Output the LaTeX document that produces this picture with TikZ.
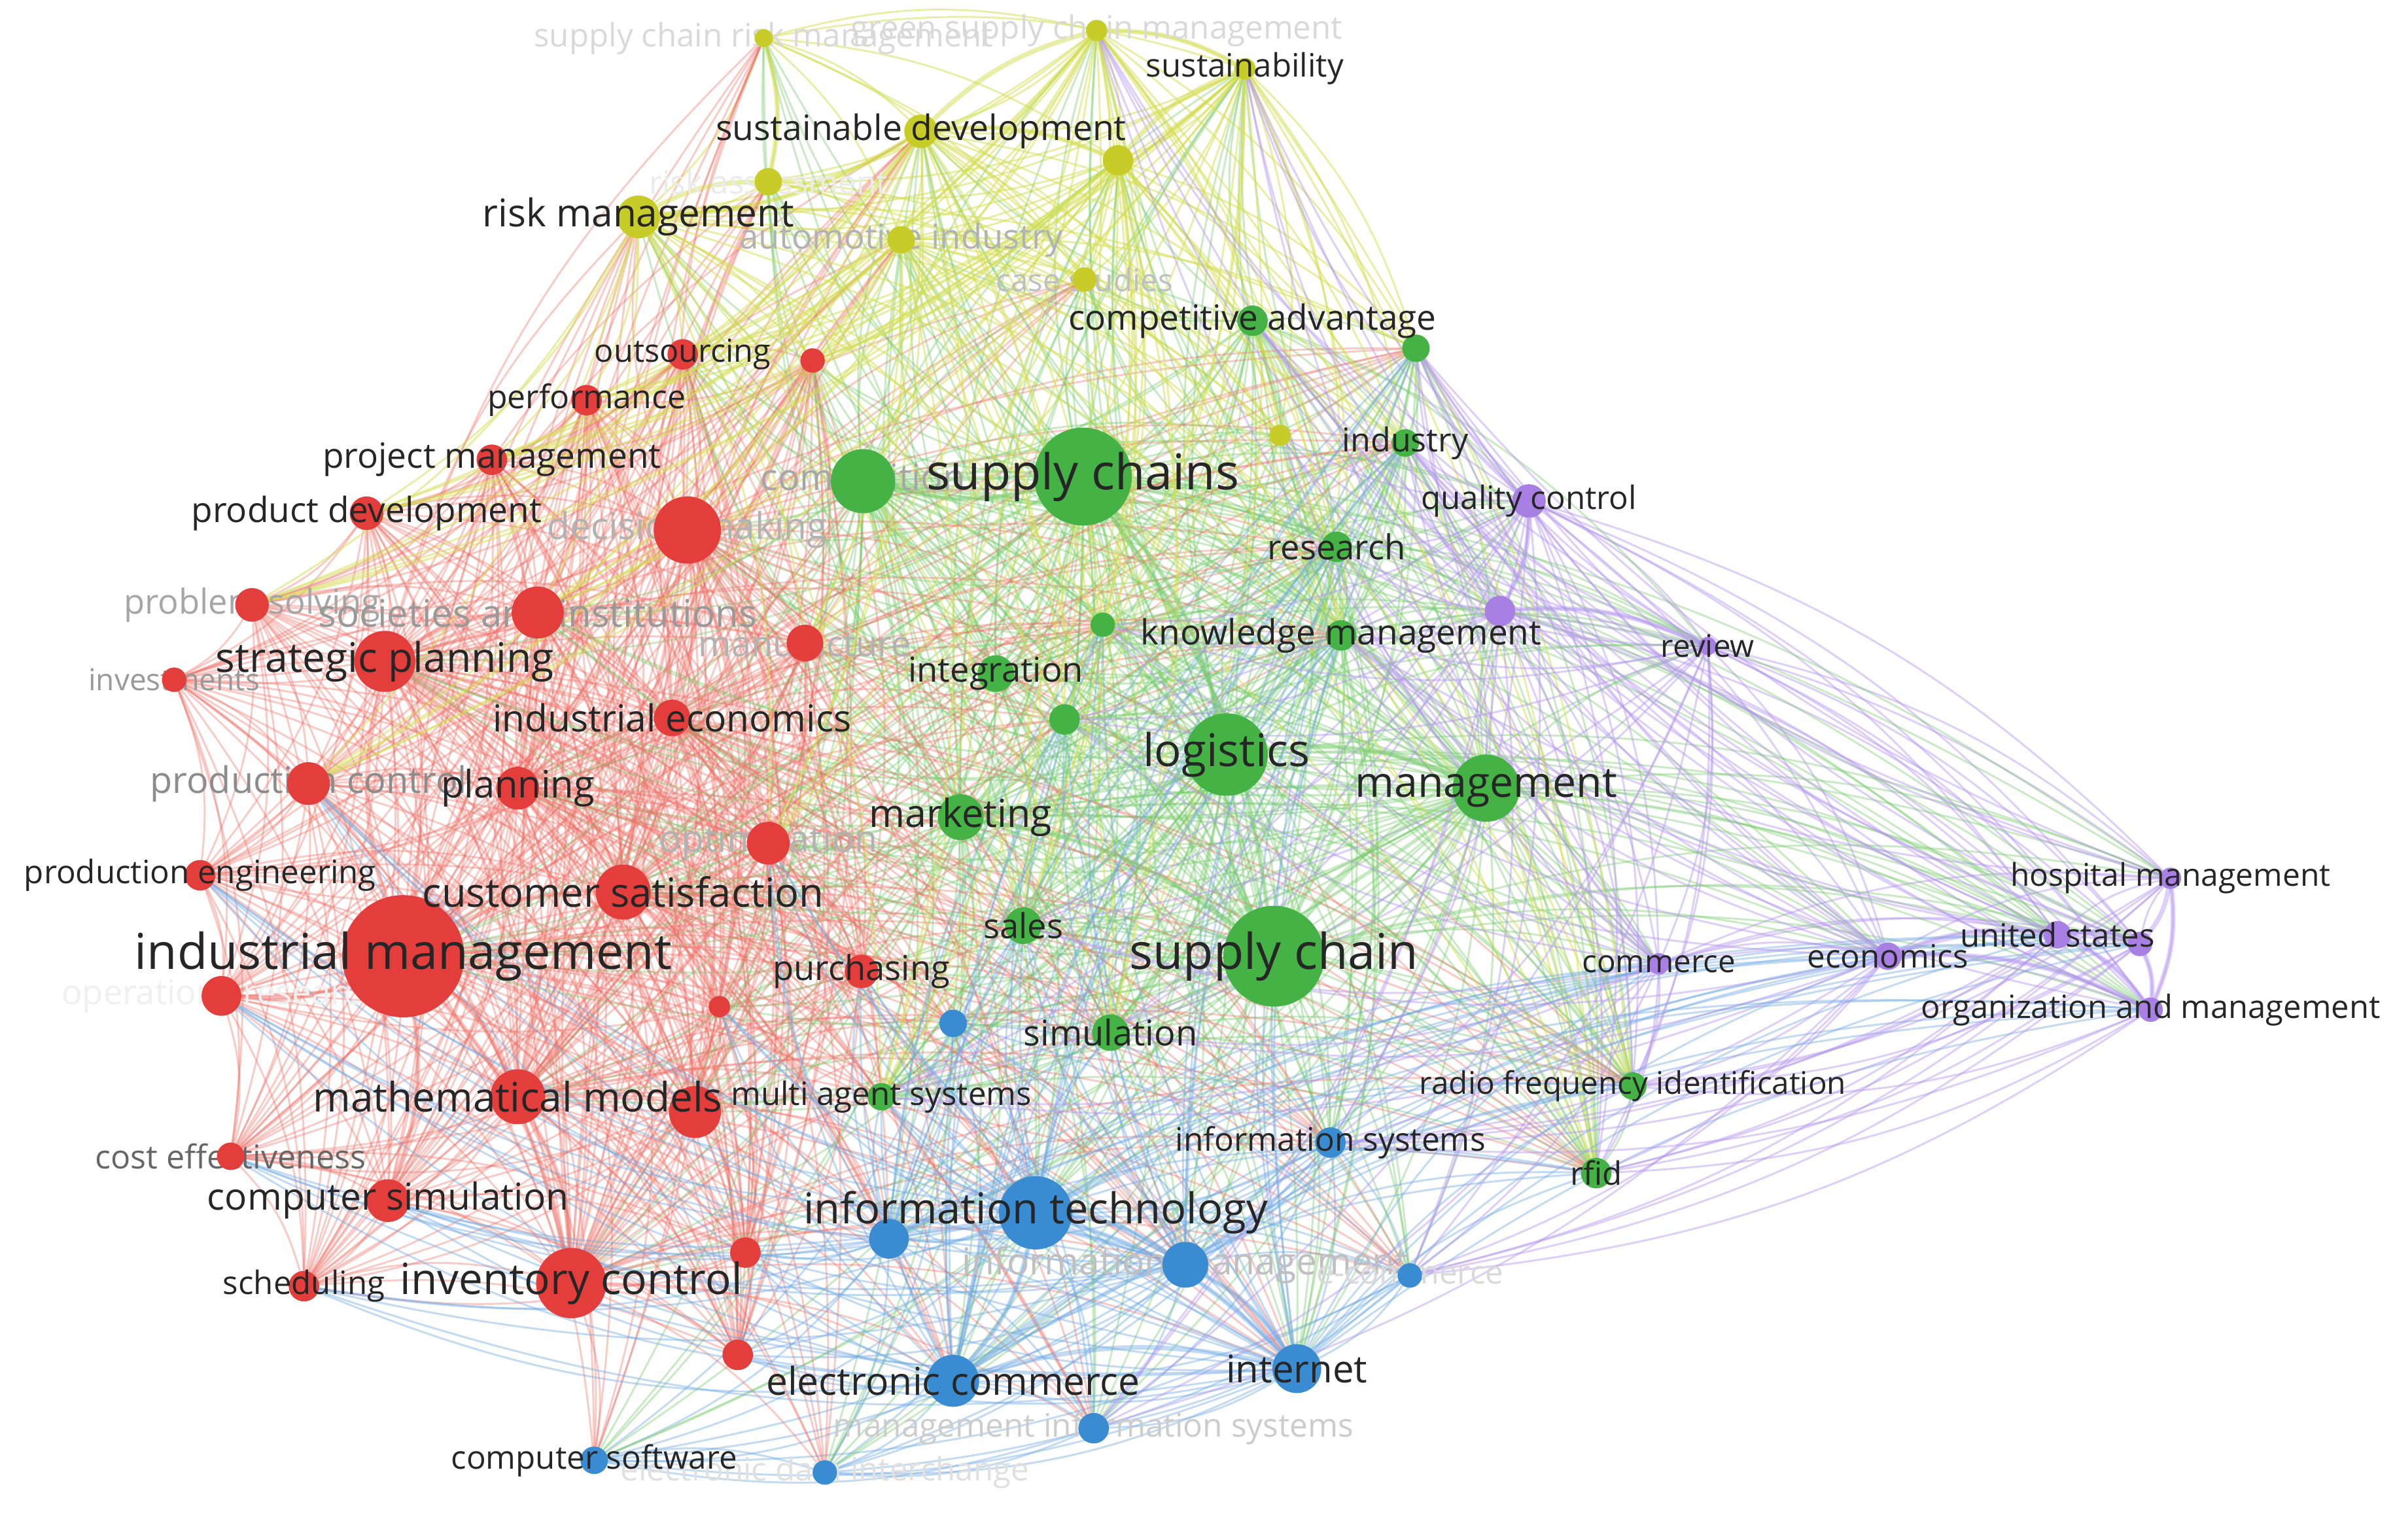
\documentclass[tikz,border=0pt]{standalone}
\usepackage{fontspec}
\setmainfont{Open Sans}
\definecolor{cR}{RGB}{228,62,60}
\definecolor{cG}{RGB}{68,178,68}
\definecolor{cY}{RGB}{200,204,40}
\definecolor{cB}{RGB}{58,140,210}
\definecolor{cP}{RGB}{168,128,228}
\definecolor{eR}{RGB}{238,112,102}
\definecolor{eG}{RGB}{120,204,110}
\definecolor{eY}{RGB}{212,222,80}
\definecolor{eB}{RGB}{112,170,228}
\definecolor{eP}{RGB}{180,150,238}
\pgfdeclarelayer{bg}
\pgfdeclarelayer{edges}
\pgfdeclarelayer{flabels}
\pgfdeclarelayer{labels}
\pgfsetlayers{bg,edges,flabels,main,labels}
\tikzset{
  dot/.style={circle,inner sep=0pt,outer sep=0pt,draw=none},
  lbl/.style={inner sep=0pt,outer sep=0pt,text=black!85},
  lk/.style={line width=0.9pt,bend left=14},
  linkR/.style={lk,draw=eR,draw opacity=0.36},
  linkG/.style={lk,draw=eG,draw opacity=0.4},
  linkY/.style={lk,draw=eY,draw opacity=0.5},
  linkB/.style={lk,draw=eB,draw opacity=0.42},
  linkP/.style={lk,draw=eP,draw opacity=0.45},
  strong/.style={line width=2.2pt},
}
% labelled node, dark label
\newcommand\kw[7]{%
  \node[dot,fill=#5,minimum size=#4*0.05cm] (#1) at (#2,#3) {};
  \begin{pgfonlayer}{labels}
  \node[lbl,font=\fontsize{#7pt}{#7pt}\selectfont] (#1-l) at (#1.center) {#6};
  \end{pgfonlayer}}
% labelled node, faint label
\newcommand\kf[8]{%
  \node[dot,fill=#5,minimum size=#4*0.05cm] (#1) at (#2,#3) {};
  \begin{pgfonlayer}{flabels}
  \node[lbl,text=black!#8,font=\fontsize{#7pt}{#7pt}\selectfont] (#1-l) at (#1.center) {#6};
  \end{pgfonlayer}}
% node without label
\newcommand\kn[5]{%
  \node[dot,fill=#5,minimum size=#4*0.05cm] (#1) at (#2,#3) {};}
\def\Rall{rou,rx1,rpe,rpm,rpd,rdm,rps,rsi,riv,rsp,rmf,rie,rpc,rpl,rop,rpen,rcs,rim,rpu,ror,rx2,rmm,rx3,rce,rcsim,rx4,rsch,ric,rx5}
\def\Gall{gca,gx1,gin,gsc,gco,gre,gx2,gkm,gig,gx3,glo,gma,gmk,gsa,gsp,gsi,gmas,grf,grd}
\def\Yall{ysc,ygs,ysu,ysd,yx1,yra,yrm,yai,ycs,yx2}
\def\Ball{bx1,bis,bit,bx2,bim,becc,bin,bec,bmis,bcs,bedi}
\def\Pall{pqc,px1,prv,pcm,pec,pus,px2,phm,pom}
\begin{document}
\begin{tikzpicture}[x=0.025cm,y=-0.025cm]
\begin{pgfonlayer}{bg}
\fill[white] (0,0) rectangle (1568,1008);
\end{pgfonlayer}
\useasboundingbox (0,0) rectangle (1568,1008);
% ---------------- yellow cluster
\kf{ysc}{500}{25}{6}{cY}{supply chain risk management}{15}{15}
\kf{ygs}{718}{20}{7}{cY}{green supply chain management}{15}{15}
\kw{ysu}{815}{45}{7}{cY}{sustainability}{15}
\kw{ysd}{603}{86}{11}{cY}{sustainable development}{16.3}
\kn{yx1}{732}{105}{10}{cY}
\kf{yra}{503}{119}{9}{cY}{risk assessment}{15}{8}
\kw{yrm}{418}{142}{14}{cY}{risk management}{17.8}
\kf{yai}{590}{157}{9}{cY}{automotive industry}{16}{30}
\kf{ycs}{710}{183}{8}{cY}{case studies}{14.5}{25}
\kn{yx2}{838}{285}{7}{cY}
% ---------------- green cluster
\kw{gca}{820}{210}{10}{cG}{competitive advantage}{16.2}
\kn{gx1}{927}{228}{9}{cG}
\kw{gin}{920}{290}{9}{cG}{industry}{15.3}
\kf{gco}{565}{315}{21}{cG}{competition}{17}{35}
\kw{gsc}{709}{312}{32}{cG}{supply chains}{23}
\kw{gre}{875}{358}{10}{cG}{research}{16}
\kn{gx2}{722}{409}{8}{cG}
\kw{gkm}{878}{416}{10}{cG}{knowledge management}{16.2}
\kw{gig}{652}{441}{12}{cG}{integration}{16}
\kn{gx3}{697}{471}{10}{cG}
\kw{glo}{803}{494}{27}{cG}{logistics}{21}
\kw{gma}{973}{516}{22}{cG}{management}{19.6}
\kw{gmk}{629}{535}{15}{cG}{marketing}{18}
\kw{gsa}{670}{606}{12}{cG}{sales}{16}
\kw{gsp}{834}{626}{33}{cG}{supply chain}{23}
\kw{gsi}{727}{676}{12}{cG}{simulation}{16.5}
\kw{gmas}{577}{718}{9}{cG}{multi agent systems}{15}
\kw{grf}{1069}{711}{9}{cG}{radio frequency identification}{14.5}
\kw{grd}{1045}{768}{10}{cG}{rfid}{15}
% ---------------- purple cluster
\kw{pqc}{1001}{328}{11}{cP}{quality control}{15}
\kn{px1}{982}{400}{10}{cP}
\kw{prv}{1118}{423}{6}{cP}{review}{14.5}
\kw{pcm}{1086}{631}{7}{cP}{commerce}{14.5}
\kw{pec}{1236}{626}{9}{cP}{economics}{15}
\kw{pus}{1347}{612}{9}{cP}{united states}{15}
\kn{px2}{1401}{618}{8}{cP}
\kw{phm}{1421}{575}{7}{cP}{hospital management}{14.6}
\kw{pom}{1408}{661}{8}{cP}{organization and management}{14.9}
% ---------------- red cluster
\kw{rou}{447}{232}{10}{cR}{outsourcing}{14.8}
\kn{rx1}{532}{236}{8}{cR}
\kw{rpe}{384}{262}{10}{cR}{performance}{15.2}
\kw{rpm}{322}{301}{10}{cR}{project management}{16.2}
\kw{rpd}{240}{336}{11}{cR}{product development}{16.2}
\kf{rdm}{450}{347}{22}{cR}{decision making}{17.3}{30}
\kf{rps}{165}{396}{11}{cR}{problem solving}{16}{35}
\kf{rsi}{352}{401}{17}{cR}{societies and institutions}{17.7}{40}
\kf{riv}{114}{445}{8}{cR}{investments}{14}{40}
\kw{rsp}{252}{433}{20}{cR}{strategic planning}{19}
\kf{rmf}{527}{421}{12}{cR}{manufacture}{16.5}{30}
\kw{rie}{440}{470}{12}{cR}{industrial economics}{17.3}
\kf{rpc}{202}{513}{14}{cR}{production control}{17}{45}
\kw{rpl}{339}{516}{14}{cR}{planning}{17.6}
\kf{rop}{503}{552}{14}{cR}{optimization}{17.4}{30}
\kw{rpen}{131}{573}{10}{cR}{production engineering}{15}
\kw{rcs}{408}{584}{18}{cR}{customer satisfaction}{18.7}
\kw{rim}{264}{626}{40}{cR}{industrial management}{23}
\kw{rpu}{564}{636}{11}{cR}{purchasing}{16}
\kf{ror}{145}{652}{13}{cR}{operations research}{16}{6}
\kn{rx2}{471}{659}{7}{cR}
\kw{rmm}{339}{718}{18}{cR}{mathematical models}{18.9}
\kn{rx3}{455}{728}{17}{cR}
\kf{rce}{151}{757}{9}{cR}{cost effectiveness}{15.3}{60}
\kw{rcsim}{254}{786}{14}{cR}{computer simulation}{17.3}
\kn{rx4}{488}{820}{10}{cR}
\kw{rsch}{199}{842}{10}{cR}{scheduling}{15}
\kw{ric}{374}{840}{23}{cR}{inventory control}{20}
\kn{rx5}{483}{887}{10}{cR}
% ---------------- blue cluster
\kn{bx1}{624}{670}{9}{cB}
\kw{bis}{871}{748}{10}{cB}{information systems}{15.1}
\kw{bit}{678}{794}{24}{cB}{information technology}{19.8}
\kn{bx2}{582}{811}{13}{cB}
\kf{bim}{776}{828}{15}{cB}{information management}{17.3}{25}
\kf{becc}{923}{835}{8}{cB}{e-commerce}{15}{15}
\kw{bin}{849}{896}{16}{cB}{internet}{17.7}
\kw{bec}{624}{904}{17}{cB}{electronic commerce}{17.9}
\kf{bmis}{716}{935}{10}{cB}{management information systems}{15.1}{20}
\kw{bcs}{389}{956}{9}{cB}{computer software}{15}
\kf{bedi}{540}{964}{8}{cB}{electronic data interchange}{15}{12}
% ---------------- links
\begin{pgfonlayer}{edges}
% within clusters
\foreach \a [count=\i] in \Rall {\foreach \b [count=\j] in \Rall {\ifnum\j>\i\relax \draw[linkR] (\a) to (\b);\fi}}
\foreach \a [count=\i] in \Gall {\foreach \b [count=\j] in \Gall {\ifnum\j>\i\relax \draw[linkG] (\a) to (\b);\fi}}
\foreach \a [count=\i] in \Yall {\foreach \b [count=\j] in \Yall {\ifnum\j>\i\relax \draw[linkY] (\a) to (\b);\fi}}
\foreach \a [count=\i] in \Ball {\foreach \b [count=\j] in \Ball {\ifnum\j>\i\relax \draw[linkB] (\a) to (\b);\fi}}
\foreach \a [count=\i] in \Pall {\foreach \b [count=\j] in \Pall {\ifnum\j>\i\relax \draw[linkP] (\a) to (\b);\fi}}
% green hubs
\foreach \a in {gsc,glo,gsp,gma,gco,gmk} {\foreach \b in {rim,ric,rmm,rcs,rsp,rdm,rpl,rie,rop,rpu,rmf,rx3,rx2,rsi,rx1,rou,ysc,ygs,ysu,ysd,yx1,yra,yrm,yai,ycs,yx2,bx1,bis,bit,bx2,bim,becc,bin,bec,bmis,bcs,bedi,pqc,px1,prv,pcm,pec,pus,px2,phm,pom} {\draw[linkG] (\a) to (\b);}}
\foreach \a in {gig,gca,gre,gkm} {\foreach \b in {rdm,rcs,rim,rmf,ysd,yx1,yai,ycs,yx2,ysu,bit,bin,bis,pqc,px1,prv} {\draw[linkG] (\a) to (\b);}}
% red hubs
\foreach \a in {rim,ric,rmm,rcs,rsp,rdm,rpl,rie} {\foreach \b in {gin,gre,gx2,gkm,gx3,gsa,gsi,gmas,grf,grd,gx1,bx1,bis,bit,bx2,bim,becc,bin,bec,bmis,bcs,bedi,yrm,ysd,yra,yai,ycs,ysc} {\draw[linkR] (\a) to (\b);}}
% yellow hubs
\foreach \a in {yrm,ysd,yx1,ygs,ysu,yai} {\foreach \b in {gin,gre,gx2,gkm,gx3,gsa,gsi,gmas,grf,grd,gx1,rou,rx1,rpe,rpm,rpd,rps,rsi,rmf,rpc,rop} {\draw[linkY] (\a) to (\b);}}
% blue hubs
\foreach \a in {bit,bin,bec,bim,bx2} {\foreach \b in {rx4,rx5,rsch,rcsim,rce,rx2,rpu,rop,ror,rpen,rpc,gin,gre,gx2,gkm,gx3,gsa,gsi,gmas,grf,grd,gx1,pcm,pec,pus,pom,px2} {\draw[linkB] (\a) to (\b);}}
% purple hubs
\foreach \a in {pqc,px1,prv,pcm,pec} {\foreach \b in {gin,gre,gx2,gkm,gx3,gsa,gsi,gmas,grf,grd,gx1,yx2,ysu,ygs,bis,becc,bmis} {\draw[linkP] (\a) to (\b);}}
\foreach \a in {pus,phm,pom,px2} {\foreach \b in {gkm,gin,grf,grd,gx1,bis,becc,gca} {\draw[linkP] (\a) to (\b);}}
% strong links
\foreach \a/\b in {pec/pus,pus/pom,phm/pom,pus/px2,pec/pom,phm/px2,px2/pom,pqc/px1,px1/prv}
  {\draw[linkP,strong] (\a) to (\b);}
\foreach \a/\b in {ysd/ygs,ysd/yx1,yrm/yra,ysc/yra,ygs/ysu,yx1/ysu,ysd/yrm}
  {\draw[linkY,strong] (\a) to (\b);}
\foreach \a/\b in {gsc/glo,gsp/glo,gsp/gma,glo/gma,gsc/gco,gmk/gsp,gsc/gsp}
  {\draw[linkG,strong] (\a) to (\b);}
\foreach \a/\b in {rim/rsp,rim/rmm,rim/ric,rim/rcs,rim/rpl,rim/ror,rsp/rsi,rmm/ric,rim/rcsim}
  {\draw[linkR,strong] (\a) to (\b);}
\foreach \a/\b in {bit/bec,bit/bin,bit/bim,bec/bin,bim/bin}
  {\draw[linkB,strong] (\a) to (\b);}
\end{pgfonlayer}
\end{tikzpicture}
\end{document}
